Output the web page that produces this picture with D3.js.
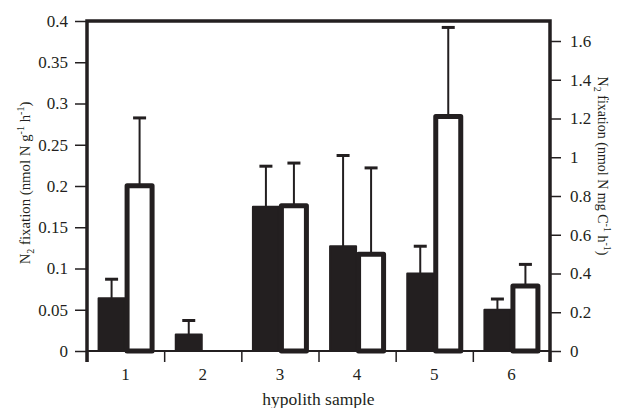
<!DOCTYPE html>
<html>
<head>
<meta charset="utf-8">
<script src="https://cdn.jsdelivr.net/npm/d3@7"></script>
<style>
  body { margin: 0; background: #fff; }
</style>
</head>
<body>
<div id="chart"></div>
<script>
// hypolith samples along the x axis
var samples = ["1", "2", "3", "4", "5", "6"];

// N2 fixation per gram (left axis, filled bars)
var perGram = [0.064, 0.020, 0.175, 0.127, 0.094, 0.050];
var perGramErr = [0.023, 0.017, 0.049, 0.110, 0.033, 0.013];

// N2 fixation per mg C (right axis, open bars)
var perCarbon = [0.853, 0, 0.75, 0.50, 1.21, 0.335];
var perCarbonErr = [0.35, 0, 0.22, 0.445, 0.46, 0.112];

var leftTicks = [0, 0.05, 0.1, 0.15, 0.2, 0.25, 0.3, 0.35, 0.4];
var rightTicks = [0, 0.2, 0.4, 0.6, 0.8, 1, 1.2, 1.4, 1.6];

var w = 618, h = 408;
var ink = "#231f20";
var serif = "'Liberation Serif', serif";
var x0 = 87, x1 = 550, yTop = 21, yBase = 351;

var svg = d3.select("#chart")
            .append("svg")
            .attr("width", w)
            .attr("height", h);

var xScale = d3.scaleBand()
               .domain(samples)
               .range([x0, x1]);

var bw = xScale.bandwidth();

var yLeft = d3.scaleLinear()
              .domain([0, 0.4])
              .range([yBase, yTop]);

// right axis: 1.6 sits a bit below the top frame
var yRight = d3.scaleLinear()
               .domain([0, 1.6])
               .range([yBase, 41]);

// bars first so the axis lines sit on top
var groups = svg.append("g").selectAll("g")
                .data(samples)
                .enter()
                .append("g");

// filled bars
groups.append("rect")
      .attr("x", function(d) { return xScale(d) + bw / 2 - 27; })
      .attr("width", 26)
      .attr("y", function(d, i) { return yLeft(perGram[i]); })
      .attr("height", function(d, i) { return yBase - yLeft(perGram[i]); })
      .attr("fill", ink)
      .attr("stroke", ink)
      .attr("stroke-width", 2)
      .attr("stroke-linejoin", "round");

groups.append("line")
      .attr("x1", function(d) { return xScale(d) + bw / 2 - 14; })
      .attr("x2", function(d) { return xScale(d) + bw / 2 - 14; })
      .attr("y1", function(d, i) { return yLeft(perGram[i]); })
      .attr("y2", function(d, i) { return yLeft(perGram[i] + perGramErr[i]); })
      .attr("stroke", ink)
      .attr("stroke-width", 2);

groups.append("line")
      .attr("x1", function(d) { return xScale(d) + bw / 2 - 20.5; })
      .attr("x2", function(d) { return xScale(d) + bw / 2 - 7.5; })
      .attr("y1", function(d, i) { return yLeft(perGram[i] + perGramErr[i]); })
      .attr("y2", function(d, i) { return yLeft(perGram[i] + perGramErr[i]); })
      .attr("stroke", ink)
      .attr("stroke-width", 3);

// open bars (skip the empty one)
var open = groups.filter(function(d, i) { return perCarbon[i] > 0; });

open.append("line")
    .attr("x1", function(d) { return xScale(d) + bw / 2 + 14; })
    .attr("x2", function(d) { return xScale(d) + bw / 2 + 14; })
    .attr("y1", function(d) { var i = samples.indexOf(d); return yRight(perCarbon[i]); })
    .attr("y2", function(d) { var i = samples.indexOf(d); return yRight(perCarbon[i] + perCarbonErr[i]); })
    .attr("stroke", ink)
    .attr("stroke-width", 2);

open.append("line")
    .attr("x1", function(d) { return xScale(d) + bw / 2 + 7.5; })
    .attr("x2", function(d) { return xScale(d) + bw / 2 + 20.5; })
    .attr("y1", function(d) { var i = samples.indexOf(d); return yRight(perCarbon[i] + perCarbonErr[i]); })
    .attr("y2", function(d) { var i = samples.indexOf(d); return yRight(perCarbon[i] + perCarbonErr[i]); })
    .attr("stroke", ink)
    .attr("stroke-width", 3);

open.append("rect")
    .attr("x", function(d) { return xScale(d) + bw / 2 + 1.5; })
    .attr("width", 25)
    .attr("y", function(d) { var i = samples.indexOf(d); return yRight(perCarbon[i]); })
    .attr("height", function(d) { var i = samples.indexOf(d); return yBase - yRight(perCarbon[i]); })
    .attr("fill", "#fff")
    .attr("stroke", ink)
    .attr("stroke-width", 5)
    .attr("stroke-linejoin", "round");

// left axis
var yAxisLeft = d3.axisLeft(yLeft)
                  .tickValues(leftTicks)
                  .tickFormat(d3.format("~g"))
                  .tickSize(12)
                  .tickPadding(7);

var gl = svg.append("g")
            .attr("transform", "translate(" + x0 + ",0)")
            .call(yAxisLeft);

// right axis
var yAxisRight = d3.axisRight(yRight)
                   .tickValues(rightTicks)
                   .tickFormat(d3.format("~g"))
                   .tickSize(11)
                   .tickPadding(9);

var gr = svg.append("g")
            .attr("transform", "translate(" + x1 + ",0)")
            .call(yAxisRight);

// bottom ticks at band edges
var edges = xScale.domain().map(function(d) { return xScale(d); }).concat([x1]);
var xTicks = d3.axisBottom(d3.scaleLinear().domain([x0, x1]).range([x0, x1]))
               .tickValues(edges)
               .tickFormat("")
               .tickSize(11);

var gx = svg.append("g")
            .attr("transform", "translate(0," + yBase + ")")
            .call(xTicks);

// bottom labels at band centres
var xLabels = d3.axisBottom(xScale)
                .tickSize(0)
                .tickPadding(17);

var gxl = svg.append("g")
             .attr("transform", "translate(0," + yBase + ")")
             .call(xLabels);

[gl, gr, gx, gxl].forEach(function(g) {
  g.attr("font-family", serif);
  g.selectAll("text")
   .attr("fill", ink)
   .style("font-family", serif)
   .style("font-size", "17px");
  g.selectAll(".tick line").attr("stroke", ink).attr("stroke-width", 1.5);
  g.select(".domain").remove();
});

// frame: left, top, right and bottom lines
svg.append("path")
   .attr("d", d3.line()([[x0, yBase + 11], [x0, yTop], [x1, yTop], [x1, yBase + 11]]))
   .attr("fill", "none")
   .attr("stroke", ink)
   .attr("stroke-width", 3.5);

svg.append("line")
   .attr("x1", x0)
   .attr("x2", x1)
   .attr("y1", yBase)
   .attr("y2", yBase)
   .attr("stroke", ink)
   .attr("stroke-width", 2);

// axis titles
svg.append("text")
   .attr("x", (x0 + x1) / 2)
   .attr("y", 405)
   .attr("text-anchor", "middle")
   .attr("fill", ink)
   .style("font-family", serif)
   .style("font-size", "17.5px")
   .text("hypolith sample");

function unitTitle(tr, size, unit) {
  var sub = Math.round(size * 0.7) + "px";
  var t = svg.append("text")
             .attr("transform", tr)
             .attr("text-anchor", "middle")
             .attr("fill", ink)
             .style("font-family", serif)
             .style("font-size", size + "px");
  t.append("tspan").text("N");
  t.append("tspan").attr("dy", 4).style("font-size", sub).text("2");
  t.append("tspan").attr("dy", -4).text(" fixation (nmol N " + unit);
  t.append("tspan").attr("dy", -6).style("font-size", sub).text("-1");
  t.append("tspan").attr("dy", 6).text(" h");
  t.append("tspan").attr("dy", -6).style("font-size", sub).text("-1");
  t.append("tspan").attr("dy", 6).text(")");
}

unitTitle("translate(30,183) rotate(-90)", 14.8, "g");
unitTitle("translate(598,166) rotate(90)", 14, "mg C");
</script>
</body>
</html>
